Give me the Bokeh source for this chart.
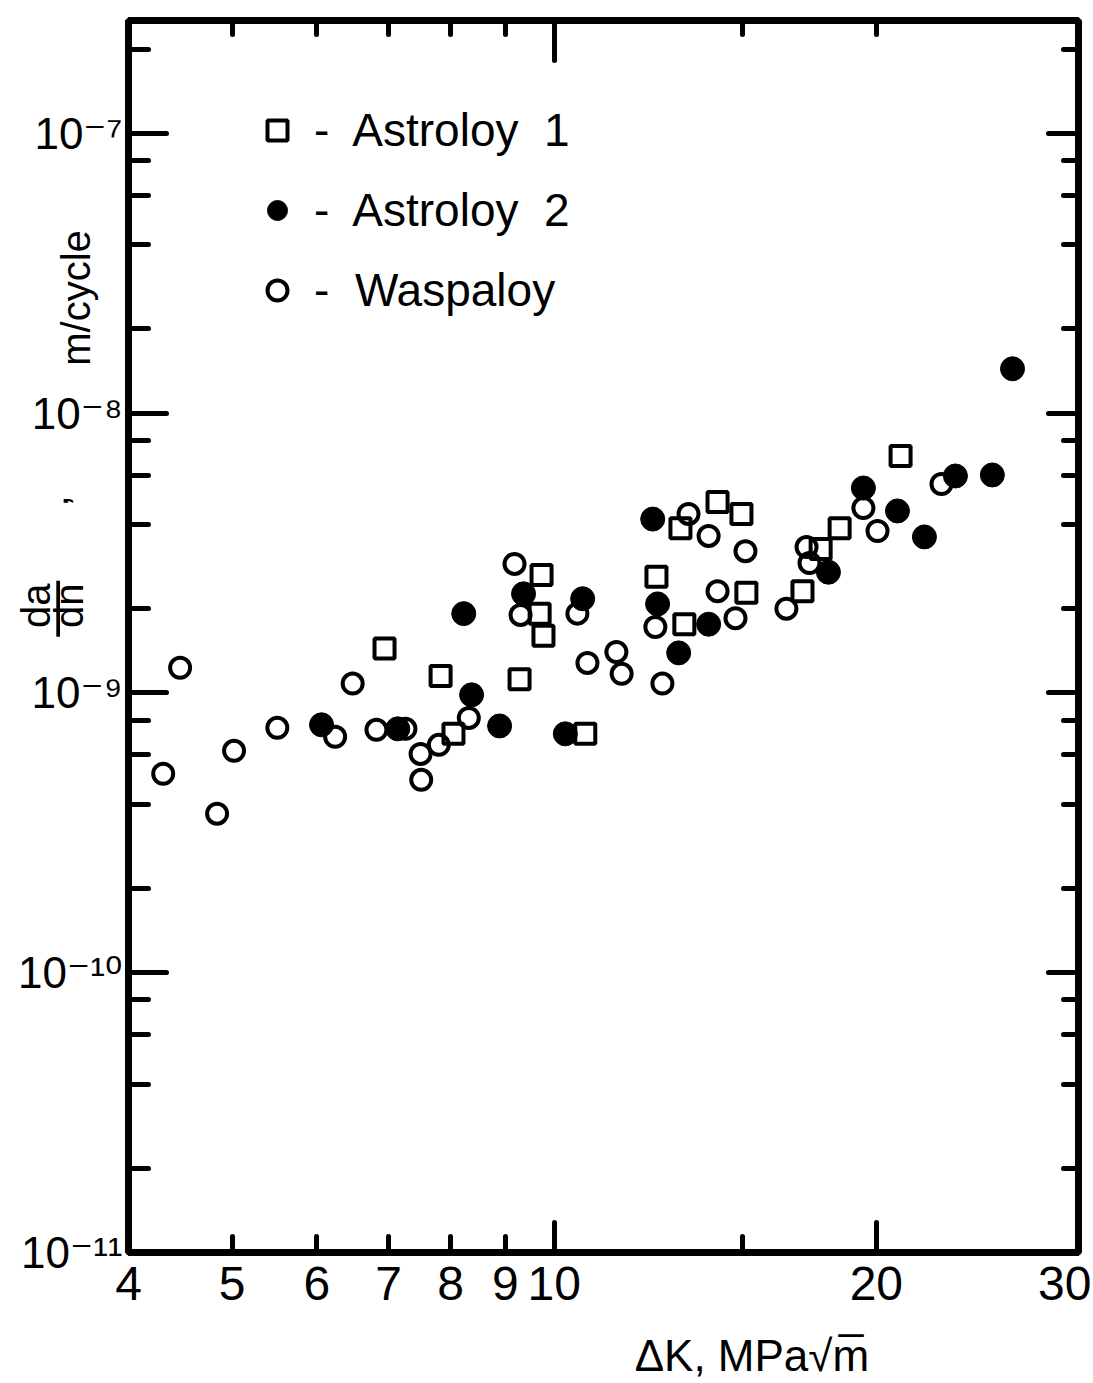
import math
from bokeh.plotting import figure
from bokeh.models import (LogAxis, FixedTicker, Range1d, Legend, LegendItem,
                          CustomJSTickFormatter)
from bokeh.core.properties import value
from bokeh.embed import file_html
from bokeh.resources import INLINE

# ---------------- data ----------------
astroloy1_dk = [6.94, 7.83, 8.05, 9.28, 9.73, 9.69, 9.77, 10.69, 12.46, 13.23, 13.12,
                14.21, 14.96, 15.12, 17.06, 17.74, 18.48, 21.07]
astroloy1_rate = [1.44e-9, 1.15e-9, 7.14e-10, 1.12e-9, 2.64e-9, 1.92e-9, 1.60e-9, 7.14e-10,
                  2.60e-9, 1.76e-9, 3.88e-9, 4.81e-9, 4.36e-9, 2.28e-9, 2.31e-9, 3.27e-9,
                  3.88e-9, 7.02e-9]

astroloy2_dk = [6.06, 7.14, 8.23, 8.37, 8.89, 9.36, 10.24, 10.63, 12.36, 12.49, 13.07,
                13.94, 18.04, 19.45, 20.93, 22.18, 23.71, 25.67, 26.81]
astroloy2_rate = [7.69e-10, 7.44e-10, 1.92e-9, 9.84e-10, 7.62e-10, 2.26e-9, 7.14e-10, 2.17e-9,
                  4.18e-9, 2.08e-9, 1.39e-9, 1.76e-9, 2.70e-9, 5.40e-9, 4.47e-9, 3.61e-9,
                  5.96e-9, 6.01e-9, 1.44e-8]

waspaloy_dk = [4.31, 4.47, 4.84, 5.02, 5.51, 6.24, 6.48, 6.82, 7.26, 7.50, 7.51, 7.80, 8.32,
               9.18, 9.30, 10.51, 10.74, 11.43, 11.56, 12.43, 12.62, 13.35, 13.94, 15.09,
               14.21, 14.77, 16.48, 17.21, 17.32, 19.45, 20.05, 23.01]
waspaloy_rate = [5.14e-10, 1.23e-9, 3.70e-10, 6.21e-10, 7.50e-10, 6.97e-10, 1.08e-9, 7.38e-10,
                 7.44e-10, 6.05e-10, 4.89e-10, 6.52e-10, 8.14e-10, 2.89e-9, 1.90e-9, 1.92e-9,
                 1.28e-9, 1.40e-9, 1.17e-9, 1.72e-9, 1.08e-9, 4.36e-9, 3.64e-9, 3.21e-9,
                 2.31e-9, 1.85e-9, 2.00e-9, 3.32e-9, 2.91e-9, 4.58e-9, 3.79e-9, 5.58e-9]

series_labels = ["-  Astroloy  1", "-  Astroloy  2", "-  Waspaloy"]

x_tick_values = [4, 5, 6, 7, 8, 9, 10, 20, 30]
x_tick_labels = ["4", "5", "6", "7", "8", "9", "10", "20", "30"]
x_major_marks = [10, 20]
x_minor_marks = [5, 6, 7, 8, 9, 15]

y_tick_values = [1e-11, 1e-10, 1e-9, 1e-8, 1e-7]
y_tick_labels = ["10\u207b\u00b9\u00b9", "10\u207b\u00b9\u2070", "10\u207b\u2079",
                 "10\u207b\u2078", "10\u207b\u2077"]
y_minor_marks = [m * 10.0 ** e for e in range(-11, -7) for m in (2, 4, 6, 8)] + [2e-7]

# axis titles: text pieces and their anchor points (outside the frame)
x_title = "\u0394K, MPa\u221am\u0305"
x_title_at = (15.3, 4.3e-12)
y_title_texts = ["m/cycle", ",", "da", "dn"]
y_title_x = [3.57, 3.41, 3.28, 3.52]
y_title_y = [2.58e-8, 4.85e-9, 2.05e-9, 2.05e-9]
y_bar_at = (3.40, 2.0e-9)

FONT = "'Liberation Sans', 'DejaVu Sans'"

# ---------------- figure ----------------
p = figure(width=1093, height=1383, x_axis_type="log", y_axis_type="log",
           x_range=Range1d(4, 30.9), y_range=Range1d(1e-11, 2.53e-7),
           x_axis_location=None, y_axis_location=None,
           output_backend="svg", toolbar_location=None,
           min_border_left=128, min_border_right=15, min_border_top=20,
           min_border_bottom=131)
p.outline_line_color = "black"
p.outline_line_width = 7
p.background_fill_color = "white"
p.border_fill_color = "white"
p.xgrid.visible = False
p.ygrid.visible = False

LABEL_JS = """
let best = 0, bd = Infinity;
for (let i = 0; i < vals.length; i++) {
  const d = Math.abs(Math.log10(tick) - Math.log10(vals[i]));
  if (d < bd) { bd = d; best = i; }
}
return labs[best];
"""
EMPTY_JS = "return '';"


def tick_axis(ticks, minors, major_len, minor_len):
    ax = LogAxis(ticker=FixedTicker(ticks=ticks, minor_ticks=minors),
                 formatter=CustomJSTickFormatter(code=EMPTY_JS))
    ax.axis_line_color = None
    ax.major_tick_in = major_len
    ax.major_tick_out = 0
    ax.minor_tick_in = minor_len
    ax.minor_tick_out = 0
    ax.major_tick_line_width = 5
    ax.minor_tick_line_width = 5
    ax.major_tick_line_cap = "round"
    ax.minor_tick_line_cap = "round"
    ax.major_label_text_font_size = "0px"
    ax.major_label_standoff = 0
    return ax


# left axis: ticks + labels
yax = tick_axis(y_tick_values, y_minor_marks, 38, 20)
yax.formatter = CustomJSTickFormatter(args=dict(vals=y_tick_values, labs=y_tick_labels),
                                      code=LABEL_JS)
yax.major_label_text_font_size = "44px"
yax.major_label_text_font = FONT
yax.major_label_text_color = "black"
yax.major_label_standoff = 6
p.add_layout(yax, "left")

# right axis: ticks only
p.add_layout(tick_axis(y_tick_values, y_minor_marks, 30, 15), "right")

# top axis: ticks only
p.add_layout(tick_axis([10], [5, 6, 7, 8, 9, 15, 20], 40, 14), "above")

# bottom: tick marks axis, then label axis
p.add_layout(tick_axis(x_major_marks, x_minor_marks, 30, 16), "below")
xlab = LogAxis(ticker=FixedTicker(ticks=x_tick_values, minor_ticks=[]),
               formatter=CustomJSTickFormatter(args=dict(vals=x_tick_values, labs=x_tick_labels),
                                               code=LABEL_JS))
xlab.axis_line_color = None
xlab.major_tick_in = 0
xlab.major_tick_out = 0
xlab.minor_tick_in = 0
xlab.minor_tick_out = 0
xlab.major_label_text_font_size = "48px"
xlab.major_label_text_font = FONT
xlab.major_label_text_color = "black"
xlab.major_label_standoff = 14
p.add_layout(xlab, "below")

# ---------------- data marks ----------------
r_open = p.scatter(waspaloy_dk, waspaloy_rate, marker="circle", size=20,
                   line_color="black", line_width=4, fill_color=None)
r_sq = p.scatter(astroloy1_dk, astroloy1_rate, marker="square", size=20,
                 line_color="black", line_width=4, fill_color=None)
r_fill = p.scatter(astroloy2_dk, astroloy2_rate, marker="circle", size=24,
                   line_color="black", line_width=1, fill_color="black")

legend = Legend(items=[LegendItem(label=series_labels[0], renderers=[r_sq]),
                       LegendItem(label=series_labels[1], renderers=[r_fill]),
                       LegendItem(label=series_labels[2], renderers=[r_open])],
                location=(124, 932))
legend.label_text_font = FONT
legend.label_text_font_size = "46px"
legend.label_text_color = "black"
legend.glyph_width = 50
legend.glyph_height = 50
legend.label_height = 60
legend.spacing = 20
legend.padding = 0
legend.margin = 0
legend.label_standoff = 12
legend.border_line_color = None
legend.background_fill_alpha = 0
p.add_layout(legend)

# ---------------- axis titles (text glyphs drawn above the frame clip) ----------------
p.text(x=[x_title_at[0]], y=[x_title_at[1]], text=[x_title],
       text_font=value(FONT), text_font_size=value("44px"), text_color="black",
       text_align="center", text_baseline="middle", level="overlay")
p.text(x=y_title_x, y=y_title_y, text=y_title_texts, angle=math.pi / 2,
       text_font=value(FONT), text_font_size=value("40px"), text_color="black",
       text_align="center", text_baseline="middle", level="overlay")
p.text(x=[y_bar_at[0]], y=[y_bar_at[1]], text=["\u2014"], angle=math.pi / 2,
       text_font=value(FONT), text_font_size=value("56px"), text_color="black",
       text_align="center", text_baseline="middle", level="overlay")

open("out.html", "w").write(file_html(p, INLINE))
